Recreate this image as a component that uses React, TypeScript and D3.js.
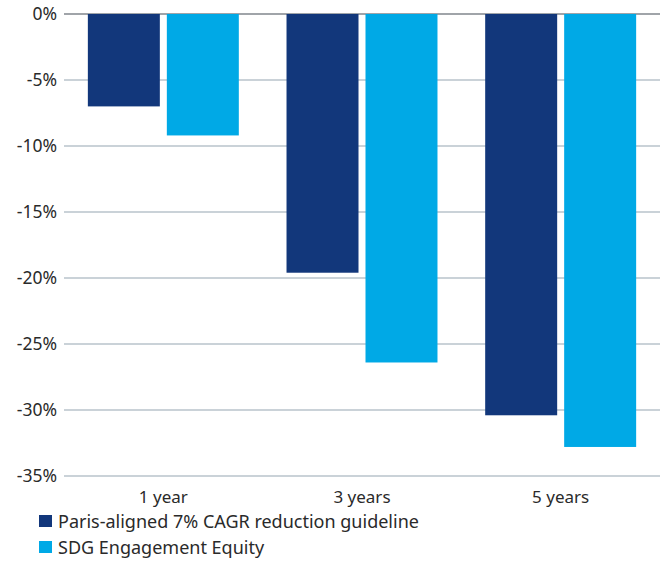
import React from "react";
import * as d3 from "d3";

const categories = ["1 year", "3 years", "5 years"];
const seriesNames = ["Paris-aligned 7% CAGR reduction guideline", "SDG Engagement Equity"];
const parisValues = [-7.0, -19.6, -30.4];
const sdgValues = [-9.2, -26.4, -32.8];
const yTicks = [0, -5, -10, -15, -20, -25, -30, -35];
const colors = ["#12377B", "#00A9E6"];

const W = 666;
const H = 561;
const margin = { left: 64, right: 6, top: 14, bottom: 85 };

export default function App() {
  const x0 = d3
    .scaleBand<string>()
    .domain(categories)
    .range([margin.left, W - margin.right])
    .padding(0);
  const x1 = d3
    .scaleBand<string>()
    .domain(seriesNames)
    .range([0, x0.bandwidth()])
    .paddingInner(0.0886)
    .paddingOuter(0.302);
  const y = d3.scaleLinear().domain([0, -35]).range([margin.top, H - margin.bottom]);
  const seriesValues = [parisValues, sdgValues];
  const font = "'Noto Sans', sans-serif";

  return (
    <svg width={W} height={H} style={{ position: "absolute", left: 0, top: 0 }}>
      <rect width={W} height={H} fill="#fff" />
      {yTicks.map((t) => (
        <g key={t}>
          <line
            x1={margin.left}
            x2={W - margin.right}
            y1={y(t)}
            y2={y(t)}
            stroke={t === 0 ? "#80868c" : "#b8c3cb"}
            strokeWidth={1.5}
          />
          <text
            x={57}
            y={y(t)}
            dy="0.36em"
            textAnchor="end"
            fontFamily={font}
            fontSize={17.5}
            fill="#2a2a2a"
          >
            {t}%
          </text>
        </g>
      ))}
      {categories.map((c, i) => (
        <g key={c} transform={`translate(${x0(c)},0)`}>
          {seriesNames.map((s, j) => {
            const v = seriesValues[j][i];
            return (
              <rect
                key={s}
                x={x1(s)}
                y={y(0)}
                width={x1.bandwidth()}
                height={y(v) - y(0)}
                fill={colors[j]}
              />
            );
          })}
          <text
            x={x0.bandwidth() / 2}
            y={503}
            textAnchor="middle"
            fontFamily={font}
            fontSize={17}
            fill="#2a2a2a"
          >
            {c}
          </text>
        </g>
      ))}
      {seriesNames.map((s, j) => (
        <g key={s} transform={`translate(39,${515 + j * 26})`}>
          <rect width={13} height={12} fill={colors[j]} />
          <text x={19} y={12.5} fontFamily={font} fontSize={18} fill="#2a2a2a">
            {s}
          </text>
        </g>
      ))}
    </svg>
  );
}
